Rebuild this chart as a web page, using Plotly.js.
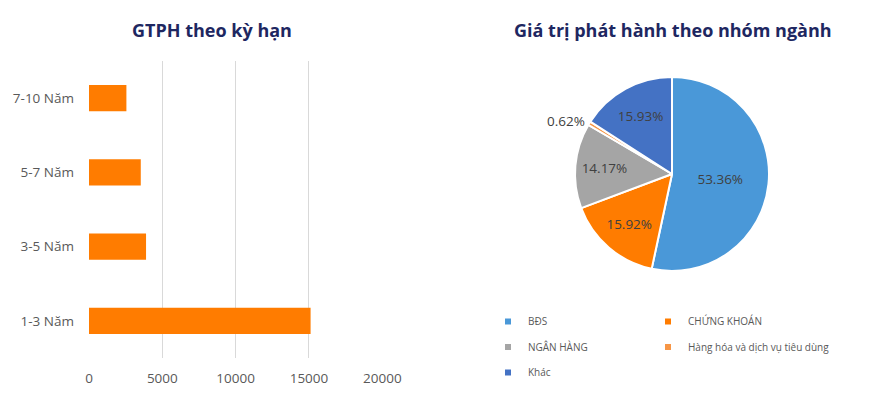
<!DOCTYPE html>
<html>
<head>
<meta charset="utf-8">
<script src="https://cdn.plot.ly/plotly-3.0.1.min.js"></script>
<style>html,body{margin:0;padding:0;background:#fff;}#chart{width:877px;height:398px;}</style>
</head>
<body>
<div id="chart"></div>
<script>
// Bar chart: issuance value by term
const termLabels = ['1-3 Năm', '3-5 Năm', '5-7 Năm', '7-10 Năm'];
const termValues = [15110, 3890, 3530, 2550];
const xTickValues = [0, 5000, 10000, 15000, 20000];

// Pie chart: issuance value by sector (%)
const sectorLabels = ['BĐS', 'CHỨNG KHOÁN', 'NGÂN HÀNG', 'Hàng hóa và dịch vụ tiêu dùng', 'Khác'];
const sectorValues = [53.36, 15.92, 14.17, 0.62, 15.93];
const sectorColors = ['#4A98D8', '#FF7C00', '#A5A5A5', '#F79646', '#4472C4'];
const sectorTextPos = ['inside', 'inside', 'inside', 'outside', 'inside'];
// legend column for each sector (two-column legend, read row by row)
const sectorLegend = ['legend', 'legend2', 'legend', 'legend2', 'legend'];

const titleLeft = 'GTPH theo kỳ hạn';
const titleRight = 'Giá trị phát hành theo nhóm ngành';

const W = 877, H = 398;
const M = {l: 89, r: 69, t: 61, b: 40};
const gw = W - M.l - M.r, gh = H - M.t - M.b;
const px2x = p => (p - M.l) / gw;
const px2y = p => (H - M.b - p) / gh;

const traces = [
  {
    type: 'bar', orientation: 'h',
    y: termLabels, x: termValues,
    marker: {color: '#FF7C00'},
    showlegend: false, hoverinfo: 'x+y'
  },
  {
    type: 'pie',
    labels: sectorLabels, values: sectorValues,
    sort: false, direction: 'clockwise', rotation: 0,
    domain: {x: [px2x(575), px2x(769)], y: [px2y(271), px2y(77)]},
    marker: {colors: sectorColors, line: {color: '#FFFFFF', width: 2}},
    texttemplate: '%{value:.2f}%',
    textposition: sectorTextPos,
    insidetextorientation: 'horizontal',
    textfont: {size: 13.5, color: '#404040', family: 'Open Sans, sans-serif'},
    outsidetextfont: {size: 13.5, color: '#404040', family: 'Open Sans, sans-serif'},
    hoverinfo: 'label+percent',
    showlegend: false
  }
];

// legend entries for the pie sectors (two columns)
sectorLabels.forEach((lab, i) => {
  traces.push({
    type: 'scatter', mode: 'markers',
    x: [null], y: [null],
    name: lab,
    legend: sectorLegend[i],
    legendgroup: 'g' + i,
    marker: {symbol: 'square', size: 6, color: sectorColors[i]},
    showlegend: true, hoverinfo: 'skip'
  });
});

const legendCommon = {
  orientation: 'v', yanchor: 'top', xanchor: 'left',
  traceorder: 'grouped', tracegroupgap: 6.5,
  font: {size: 10, color: '#595959', family: 'Open Sans, sans-serif'},
  bgcolor: 'rgba(0,0,0,0)', itemclick: false, itemdoubleclick: false
};

const layout = {
  width: W, height: H,
  margin: {l: M.l, r: M.r, t: M.t, b: M.b, autoexpand: false},
  paper_bgcolor: '#FFFFFF', plot_bgcolor: 'rgba(0,0,0,0)',
  font: {family: 'Open Sans, sans-serif', color: '#595959'},
  showlegend: true,
  bargap: 0.645,
  xaxis: {
    domain: [0, px2x(382.3)], range: [0, 20000],
    tickvals: xTickValues, ticktext: xTickValues.map(String),
    showgrid: true, gridcolor: '#D9D9D9', gridwidth: 1,
    zeroline: false, showline: false, ticks: '',
    tickfont: {size: 13.5, color: '#595959'},
    ticklabelstandoff: 10, fixedrange: true
  },
  yaxis: {
    type: 'category', categoryorder: 'array', categoryarray: termLabels,
    showgrid: false, zeroline: false, showline: false, ticks: '',
    tickfont: {size: 13.5, color: '#595959'},
    ticklabelstandoff: 14, fixedrange: true
  },
  legend: Object.assign({}, legendCommon, {x: px2x(488), y: px2y(307)}),
  legend2: Object.assign({}, legendCommon, {x: px2x(648), y: px2y(307)}),
  annotations: [
    {text: titleLeft, xref: 'paper', yref: 'paper', x: px2x(211.5), y: px2y(30),
     xanchor: 'center', yanchor: 'middle', showarrow: false,
     font: {size: 18, color: '#1E2761', family: 'Open Sans, sans-serif', weight: 700}},
    {text: titleRight, xref: 'paper', yref: 'paper', x: px2x(672.5), y: px2y(30),
     xanchor: 'center', yanchor: 'middle', showarrow: false,
     font: {size: 18, color: '#1E2761', family: 'Open Sans, sans-serif', weight: 700}}
  ]
};

Plotly.newPlot('chart', traces, layout, {displayModeBar: false, staticPlot: true});
</script>
</body>
</html>
